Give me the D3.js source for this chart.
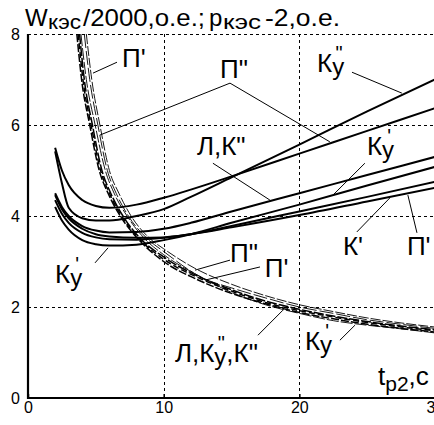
<!DOCTYPE html>
<html>
<head>
<meta charset="utf-8">
<script src="https://cdn.jsdelivr.net/npm/d3@7"></script>
<style>
body { margin: 0; background: #fff; }
svg { display: block; }
.lbl { font-family: "Liberation Sans", Arial, sans-serif; }
</style>
</head>
<body>
<script>
// axis ticks
var xTicks = [0, 10, 20, 30];
var yTicks = [0, 2, 4, 6, 8];

// W_kes/2000 curves (solid), common t grid
var tW = [2, 2.5, 3, 4, 5, 6, 8, 10, 12, 15, 20, 25, 30];
var wKy2 = [5.42, 4.72, 4.18, 3.95, 3.90, 3.90, 4.00, 4.15, 4.42, 4.85, 5.57, 6.30, 7.00];
var wPi2 = [5.50, 5.00, 4.68, 4.35, 4.22, 4.18, 4.25, 4.40, 4.58, 4.87, 5.37, 5.87, 6.37];
var wLK2 = [4.50, 4.20, 4.00, 3.78, 3.68, 3.64, 3.65, 3.72, 3.85, 4.10, 4.50, 4.90, 5.30];
var wKy1 = [4.20, 3.90, 3.70, 3.47, 3.38, 3.35, 3.37, 3.47, 3.60, 3.85, 4.25, 4.67, 5.08];
var wK1  = [4.35, 4.05, 3.85, 3.63, 3.53, 3.49, 3.48, 3.52, 3.60, 3.78, 4.10, 4.42, 4.75];
var wPi1 = [4.46, 4.15, 3.95, 3.72, 3.60, 3.55, 3.52, 3.53, 3.60, 3.75, 4.02, 4.32, 4.62];

// p_kes-2 curves (dashed), [t, p] pairs
var pKy2 = [[3.6,8],[3.95,7],[4.55,6],[5.25,5],[5.9,4.5],[6.8,4.0],[8.1,3.5],[10,3.0],[12.5,2.6],[15,2.3],[17.5,2.07],[20,1.88],[22.5,1.74],[25,1.62],[27.5,1.53],[30,1.45]];
var pL   = [[3.7,8],[4.05,7],[4.65,6],[5.35,5],[6.0,4.5],[6.9,4.0],[8.2,3.5],[10,3.05],[12.5,2.65],[15,2.35],[17.5,2.1],[20,1.92],[22.5,1.78],[25,1.66],[27.5,1.56],[30,1.48]];
var pK2  = [[3.8,8],[4.15,7],[4.75,6],[5.45,5],[6.1,4.5],[7.0,4.0],[8.3,3.5],[10,3.1],[12.5,2.68],[15,2.38],[17.5,2.13],[20,1.95],[22.5,1.8],[25,1.68],[27.5,1.58],[30,1.5]];
var pKy1 = [[3.9,8],[4.3,7],[4.95,6],[5.7,5],[6.35,4.5],[7.3,4.0],[8.6,3.5],[10,3.15],[12.5,2.7],[15,2.32],[17.5,2.05],[20,1.86],[22.5,1.7],[25,1.6],[27.5,1.52],[30,1.43]];
var pPi1 = [[4.15,8],[4.55,7],[5.15,6],[5.85,5],[6.5,4.5],[7.4,4.0],[8.8,3.5],[10,3.22],[13,2.62],[15,2.42],[17.5,2.2],[20,2.0],[22.5,1.86],[25,1.72],[27.5,1.62],[30,1.53]];
var pPi2 = [[4.3,8],[4.7,7],[5.3,6],[6.0,5],[6.7,4.5],[7.6,4.0],[9.0,3.5],[10,3.28],[12.3,2.85],[15,2.5],[17.5,2.25],[20,2.05],[22.5,1.9],[25,1.76],[27.5,1.65],[30,1.56]];

// curve labels: anchor (t, value), text parts; leader lines in data units
var labels = [
  { at: [6.93, 7.27],  parts: [{ t: "П'" }] },
  { at: [14.15, 7.03], parts: [{ t: "П\"" }] },
  { at: [21.3, 7.16],  parts: [{ t: "К" }, { sub: "у", sup: "\"" }] },
  { at: [12.45, 5.34], parts: [{ t: "Л,К\"" }] },
  { at: [24.98, 5.34], parts: [{ t: "К" }, { sub: "у", sup: "'" }] },
  { at: [23.21, 3.14], parts: [{ t: "К'" }] },
  { at: [27.93, 3.14], parts: [{ t: "П'" }] },
  { at: [1.99, 2.53],  parts: [{ t: "К" }, { sub: "у", sup: "'" }] },
  { at: [14.89, 2.99], parts: [{ t: "П\"" }] },
  { at: [17.46, 2.66], parts: [{ t: "П'" }] },
  { at: [10.83, 0.79], parts: [{ t: "Л,К" }, { sub: "у", sup: "\"" }, { t: ",К\"" }] },
  { at: [20.41, 1.05], parts: [{ t: "К" }, { sub: "у", sup: "'" }] }
];
var leaders = [
  [[6.56, 7.38], [4.79, 7.14]],
  [[14.89, 6.92], [5.31, 5.78]],
  [[14.89, 6.92], [22.25, 5.63]],
  [[23.88, 7.16], [27.56, 6.70]],
  [[13.63, 5.16], [17.83, 4.35]],
  [[24.83, 5.16], [22.48, 4.46]],
  [[24.24, 3.65], [26.68, 4.40]],
  [[28.67, 3.63], [28.0, 4.46]],
  [[4.94, 2.97], [5.9, 3.30]],
  [[14.89, 3.03], [12.31, 2.81]],
  [[17.1, 2.88], [13.04, 2.59]],
  [[16.95, 1.38], [18.79, 1.93]],
  [[22.99, 1.27], [24.1, 1.6]]
];

var width = 434, height = 425;

var x = d3.scaleLinear().domain([0, 30]).range([28, 435]);
var y = d3.scaleLinear().domain([0, 8]).range([398, 34]);

var svg = d3.select("body").append("svg")
    .attr("width", width)
    .attr("height", height);

svg.append("defs").append("clipPath").attr("id", "plot")
  .append("rect")
    .attr("x", x(0)).attr("y", y(8))
    .attr("width", x(30) - x(0)).attr("height", y(0) - y(8));

// dashed grid
var grid = svg.append("g")
    .attr("stroke", "#000")
    .attr("stroke-width", 1)
    .attr("stroke-dasharray", "3,3");
grid.selectAll(".gh").data(yTicks.filter(function (d) { return d > 0; }))
  .enter().append("line")
    .attr("x1", x(0)).attr("x2", x(30))
    .attr("y1", function (d) { return Math.round(y(d)) + 0.5; })
    .attr("y2", function (d) { return Math.round(y(d)) + 0.5; });
grid.selectAll(".gv").data(xTicks.filter(function (d) { return d > 0 && d < 30; }))
  .enter().append("line")
    .attr("y1", y(8)).attr("y2", y(0))
    .attr("x1", function (d) { return Math.round(x(d)) + 0.5; })
    .attr("x2", function (d) { return Math.round(x(d)) + 0.5; });

// axes
var xAxis = svg.append("g")
    .attr("transform", "translate(0," + y(0) + ")")
    .call(d3.axisBottom(x).tickValues(xTicks).tickSize(-4).tickPadding(4));
var yAxis = svg.append("g")
    .attr("transform", "translate(" + x(0) + ",0)")
    .call(d3.axisLeft(y).tickValues(yTicks).tickSize(0).tickPadding(8));
[xAxis, yAxis].forEach(function (g) {
  g.select(".domain").remove();
  g.selectAll("text")
    .attr("font-family", "'Liberation Sans', Arial, sans-serif")
    .attr("font-size", 16)
    .attr("fill", "#000");
  g.selectAll("line").attr("stroke", "#000").attr("stroke-width", 1.5);
});

svg.append("path")
    .attr("d", "M" + x(0) + "," + y(8) + "V" + y(0) + "H" + x(30))
    .attr("fill", "none")
    .attr("stroke", "#000")
    .attr("stroke-width", 2.2);

var line = d3.line()
    .x(function (d) { return x(d[0]); })
    .y(function (d) { return y(d[1]); })
    .curve(d3.curveMonotoneX);

var plot = svg.append("g").attr("clip-path", "url(#plot)");

// p curves
var thickP = [pKy2, pL, pK2];
var thinP = [pKy1, pPi1, pPi2];
plot.selectAll(".pthick").data(thickP).enter().append("path")
    .attr("d", line)
    .attr("fill", "none")
    .attr("stroke", "#000")
    .attr("stroke-width", 1.5)
    .attr("stroke-dasharray", function (d, i) { return ["8,2", "6,3", "10,2"][i]; });
plot.selectAll(".pthin").data(thinP).enter().append("path")
    .attr("d", line)
    .attr("fill", "none")
    .attr("stroke", "#000")
    .attr("stroke-width", 0.9)
    .attr("stroke-dasharray", function (d, i) { return ["12,2", "14,3", "10,2"][i]; });

// W curves
var wSeries = [wKy2, wPi2, wLK2, wKy1, wK1, wPi1].map(function (s) {
  return s.map(function (v, i) { return [tW[i], v]; });
});
plot.selectAll(".w").data(wSeries).enter().append("path")
    .attr("d", line)
    .attr("fill", "none")
    .attr("stroke", "#000")
    .attr("stroke-width", 2);

// leader lines
svg.append("g").selectAll("line").data(leaders).enter().append("line")
    .attr("x1", function (d) { return x(d[0][0]); })
    .attr("y1", function (d) { return y(d[0][1]); })
    .attr("x2", function (d) { return x(d[1][0]); })
    .attr("y2", function (d) { return y(d[1][1]); })
    .attr("stroke", "#000")
    .attr("stroke-width", 1);

// curve labels
var lg = svg.append("g").attr("class", "lbl").attr("fill", "#000");
labels.forEach(function (lb) {
  var cx = x(lb.at[0]), by = y(lb.at[1]);
  lb.parts.forEach(function (p) {
    if (p.t) {
      var t = lg.append("text").attr("x", cx).attr("y", by)
          .attr("font-size", 26).text(p.t);
      cx += t.node().getComputedTextLength();
    } else {
      var s = lg.append("text").attr("x", cx).attr("y", by + 3)
          .attr("font-size", 24).text(p.sub);
      var w = s.node().getComputedTextLength();
      lg.append("text").attr("x", cx + w / 2 + 1).attr("y", by - 12)
          .attr("text-anchor", "middle")
          .attr("font-size", 20).text(p.sup);
      cx += w;
    }
  });
});

// title
var title = svg.append("text")
    .attr("class", "lbl")
    .attr("font-size", 24)
    .attr("fill", "#000");
title.append("tspan").attr("x", 25).attr("y", 26).text("W");
title.append("tspan").attr("x", 48).attr("y", 29).attr("font-size", 20)
    .attr("textLength", 33).attr("lengthAdjust", "spacingAndGlyphs").text("кэс");
title.append("tspan").attr("x", 83).attr("y", 26)
    .attr("textLength", 122).attr("lengthAdjust", "spacingAndGlyphs").text("/2000,о.е.;");
title.append("tspan").attr("x", 209).attr("y", 26).text("p");
title.append("tspan").attr("x", 223).attr("y", 29).attr("font-size", 20)
    .attr("textLength", 38).attr("lengthAdjust", "spacingAndGlyphs").text("кэс");
title.append("tspan").attr("x", 265).attr("y", 26)
    .attr("textLength", 75).attr("lengthAdjust", "spacingAndGlyphs").text("-2,о.е.");

// x axis title
var xt = svg.append("text")
    .attr("class", "lbl")
    .attr("x", 378).attr("y", 385)
    .attr("fill", "#000");
xt.append("tspan").attr("font-size", 26).text("t");
xt.append("tspan").attr("dy", 6).attr("font-size", 21).text("p2");
xt.append("tspan").attr("dy", -6).attr("font-size", 26).text(",с");
</script>
</body>
</html>
